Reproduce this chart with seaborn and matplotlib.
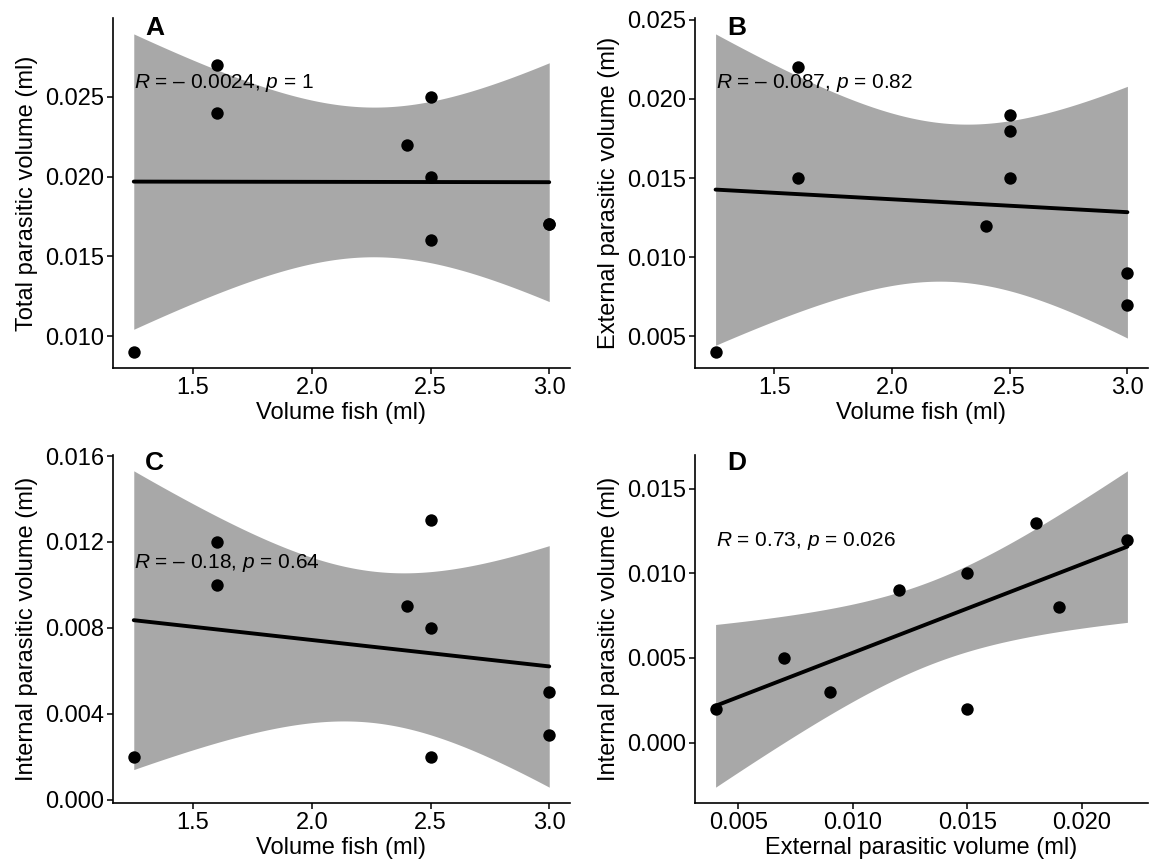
import numpy as np
import pandas as pd
import matplotlib
matplotlib.use("Agg")
import matplotlib.pyplot as plt
import seaborn as sns
from matplotlib.ticker import FixedLocator, FormatStrFormatter

sns.set_theme(style="white")
plt.rcParams['font.family'] = ['Liberation Sans', 'DejaVu Sans']
plt.rcParams['mathtext.fontset'] = 'custom'
plt.rcParams['mathtext.rm'] = 'Liberation Sans'
plt.rcParams['mathtext.it'] = 'Liberation Sans:italic'

# ---- data ----
volume_fish = [1.25, 1.6, 1.6, 2.4, 2.5, 2.5, 2.5, 3.0, 3.0]
total_parasitic = [0.009, 0.027, 0.024, 0.022, 0.025, 0.020, 0.016, 0.017, 0.017]
external_parasitic = [0.004, 0.022, 0.015, 0.012, 0.018, 0.019, 0.015, 0.007, 0.009]
internal_parasitic = [0.002, 0.012, 0.010, 0.009, 0.013, 0.008, 0.002, 0.005, 0.003]

panel_letters = ["A", "B", "C", "D"]
x_labels = ["Volume fish (ml)", "Volume fish (ml)", "Volume fish (ml)", "External parasitic volume (ml)"]
y_labels = ["Total parasitic volume (ml)", "External parasitic volume (ml)",
            "Internal parasitic volume (ml)", "Internal parasitic volume (ml)"]
stat_labels = [r"$\it{R}$ = – 0.0024, $\it{p}$ = 1",
               r"$\it{R}$ = – 0.087, $\it{p}$ = 0.82",
               r"$\it{R}$ = – 0.18, $\it{p}$ = 0.64",
               r"$\it{R}$ = 0.73, $\it{p}$ = 0.026"]
x_ticks = [[1.5, 2.0, 2.5, 3.0]] * 3 + [[0.005, 0.010, 0.015, 0.020]]
y_ticks = [[0.010, 0.015, 0.020, 0.025],
           [0.005, 0.010, 0.015, 0.020, 0.025],
           [0.000, 0.004, 0.008, 0.012, 0.016],
           [0.000, 0.005, 0.010, 0.015]]

panels = [
    (volume_fish, total_parasitic),
    (volume_fish, external_parasitic),
    (volume_fish, internal_parasitic),
    (external_parasitic, internal_parasitic),
]

# layout (figure fractions)
W, H = 1151, 868
axes_px = [  # left, top, right, bottom in pixels
    (113, 18, 570, 368),
    (695, 18, 1148, 368),
    (113, 455, 570, 803),
    (695, 455, 1148, 803),
]
label_px = [(145, 28), (727, 28), (145, 463), (727, 463)]
stat_y = [0.0259, 0.0210, 0.0110, 0.0119]
x_fmt = ["%.1f", "%.1f", "%.1f", "%.3f"]

T_CRIT_DF7 = 2.3646
BAND = "#a8a8a8"

fig = plt.figure(figsize=(W / 100, H / 100), dpi=100)

for i, (xs, ys) in enumerate(panels):
    l, t, r, b = axes_px[i]
    ax = fig.add_axes([l / W, 1 - b / H, (r - l) / W, (b - t) / H])
    x = np.asarray(xs, float)
    y = np.asarray(ys, float)
    df = pd.DataFrame({"x": x, "y": y})

    # analytic 95% confidence band of linear fit
    n = len(x)
    slope, intercept = np.polyfit(x, y, 1)
    resid = y - (intercept + slope * x)
    s = np.sqrt(np.sum(resid ** 2) / (n - 2))
    xm = x.mean()
    sxx = np.sum((x - xm) ** 2)
    xg = np.linspace(x.min(), x.max(), 200)
    yg = intercept + slope * xg
    se = s * np.sqrt(1 / n + (xg - xm) ** 2 / sxx)
    ax.fill_between(xg, yg - T_CRIT_DF7 * se, yg + T_CRIT_DF7 * se,
                    color=BAND, linewidth=0, zorder=1)

    sns.regplot(data=df, x="x", y="y", ax=ax, scatter=False, ci=None, truncate=True,
                line_kws=dict(color="black", lw=2.8, zorder=2))
    sns.scatterplot(data=df, x="x", y="y", ax=ax, color="black", s=80,
                    edgecolor="black", linewidth=0, zorder=3)

    ax.margins(0.05)
    ax.xaxis.set_major_locator(FixedLocator(x_ticks[i]))
    ax.yaxis.set_major_locator(FixedLocator(y_ticks[i]))
    ax.xaxis.set_major_formatter(FormatStrFormatter(x_fmt[i]))
    ax.yaxis.set_major_formatter(FormatStrFormatter("%.3f"))
    ax.set_xlabel(x_labels[i], fontsize=17, color="black", labelpad=2)
    ax.set_ylabel(y_labels[i], fontsize=17, color="black", labelpad=5)
    ax.tick_params(axis="both", which="major", labelsize=17, colors="black",
                   direction="out", length=4, width=1.1, bottom=True, left=True, pad=2.5)
    for side in ["top", "right"]:
        ax.spines[side].set_visible(False)
    for side in ["left", "bottom"]:
        ax.spines[side].set_color("black")
        ax.spines[side].set_linewidth(1.2)
    ax.grid(False)

    ax.text(x.min(), stat_y[i], stat_labels[i], fontsize=15, ha="left", va="center",
            color="black", zorder=4)
    fig.text(label_px[i][0] / W, 1 - label_px[i][1] / H, panel_letters[i],
             fontsize=19, fontweight="bold", ha="left", va="center", color="black")

fig.savefig("out.png", dpi=100)
